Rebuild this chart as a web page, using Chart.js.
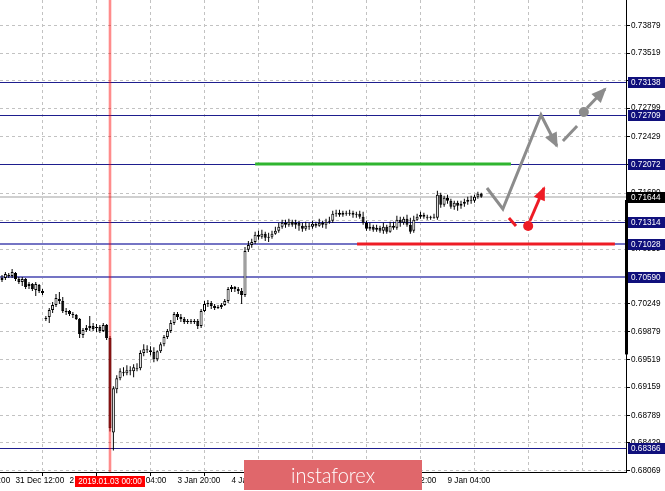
<!DOCTYPE html>
<html><head><meta charset="utf-8">
<script src="https://cdn.jsdelivr.net/npm/chart.js@4.4.1/dist/chart.umd.min.js"></script>
<style>html,body{margin:0;padding:0;background:#fff;overflow:hidden}canvas{display:block}</style>
</head><body>
<canvas id="c" width="665" height="491"></canvas>
<script>
// ---- data (H1 candles) ----
const openP=[0.70557,0.70583,0.70622,0.70609,0.70649,0.70570,0.70531,0.70570,0.70478,0.70505,
0.70426,0.70491,0.70413,0.70060,0.70073,0.70164,0.70230,0.70308,0.70282,0.70151,
0.70151,0.70112,0.70099,0.70047,0.69838,0.69903,0.69929,0.69955,0.69929,0.69942,
0.69890,0.69969,0.69798,0.68567,0.69130,0.69274,0.69353,0.69340,0.69379,0.69366,
0.69405,0.69405,0.69602,0.69654,0.69641,0.69615,0.69523,0.69628,0.69719,0.69811,
0.69890,0.69994,0.70112,0.70073,0.70047,0.70008,0.70021,0.70008,0.70021,0.69955,
0.70151,0.70243,0.70256,0.70216,0.70190,0.70203,0.70230,0.70282,0.70439,0.70465,
0.70439,0.70413,0.70361,0.70950,0.71015,0.71054,0.71146,0.71120,0.71159,0.71107,
0.71120,0.71159,0.71198,0.71251,0.71303,0.71277,0.71316,0.71277,0.71303,0.71264,
0.71225,0.71264,0.71251,0.71290,0.71264,0.71303,0.71277,0.71316,0.71329,0.71421,
0.71434,0.71408,0.71434,0.71421,0.71434,0.71408,0.71421,0.71382,0.71303,0.71225,
0.71251,0.71212,0.71238,0.71198,0.71251,0.71185,0.71264,0.71238,0.71343,0.71303,
0.71356,0.71277,0.71198,0.71343,0.71382,0.71408,0.71382,0.71369,0.71369,0.71369,
0.71670,0.71539,0.71630,0.71591,0.71513,0.71565,0.71526,0.71552,0.71578,0.71604,
0.71591,0.71644,0.71683];
const closeP=[0.70583,0.70635,0.70609,0.70662,0.70570,0.70531,0.70570,0.70465,0.70505,0.70439,
0.70505,0.70413,0.70387,0.70047,0.70164,0.70230,0.70321,0.70282,0.70151,0.70138,
0.70112,0.70099,0.70047,0.69851,0.69903,0.69929,0.69955,0.69916,0.69929,0.69890,
0.69969,0.69798,0.68620,0.69143,0.69274,0.69366,0.69340,0.69379,0.69366,0.69418,
0.69392,0.69602,0.69654,0.69641,0.69615,0.69523,0.69628,0.69719,0.69811,0.69890,
0.69994,0.70112,0.70073,0.70047,0.70008,0.70021,0.70008,0.70021,0.69955,0.70151,
0.70243,0.70256,0.70216,0.70190,0.70203,0.70230,0.70282,0.70439,0.70465,0.70439,
0.70413,0.70361,0.70936,0.71015,0.71054,0.71146,0.71120,0.71159,0.71107,0.71120,
0.71159,0.71198,0.71251,0.71303,0.71277,0.71316,0.71277,0.71303,0.71264,0.71225,
0.71264,0.71251,0.71290,0.71264,0.71303,0.71277,0.71316,0.71329,0.71421,0.71434,
0.71408,0.71434,0.71421,0.71434,0.71408,0.71421,0.71382,0.71303,0.71225,0.71251,
0.71212,0.71238,0.71198,0.71251,0.71185,0.71264,0.71238,0.71343,0.71303,0.71356,
0.71277,0.71185,0.71343,0.71382,0.71408,0.71382,0.71369,0.71369,0.71382,0.71670,
0.71539,0.71630,0.71591,0.71513,0.71565,0.71526,0.71552,0.71578,0.71604,0.71591,
0.71644,0.71683,0.71644];
const highP=[0.70622,0.70662,0.70649,0.70701,0.70662,0.70596,0.70596,0.70583,0.70531,0.70518,
0.70531,0.70505,0.70439,0.70086,0.70190,0.70269,0.70374,0.70400,0.70334,0.70190,
0.70164,0.70138,0.70112,0.70060,0.69929,0.69969,0.70086,0.69995,0.69982,0.69969,
0.69995,0.69982,0.69824,0.69169,0.69313,0.69405,0.69418,0.69445,0.69431,0.69458,
0.69471,0.69641,0.69719,0.69706,0.69693,0.69680,0.69641,0.69745,0.69838,0.69916,
0.70034,0.70138,0.70138,0.70112,0.70073,0.70047,0.70047,0.70047,0.70047,0.70177,
0.70282,0.70295,0.70282,0.70243,0.70230,0.70256,0.70308,0.70465,0.70491,0.70478,
0.70465,0.70452,0.70989,0.71067,0.71094,0.71185,0.71198,0.71212,0.71185,0.71172,
0.71198,0.71251,0.71303,0.71343,0.71343,0.71356,0.71343,0.71343,0.71329,0.71303,
0.71316,0.71303,0.71329,0.71316,0.71356,0.71329,0.71356,0.71382,0.71460,0.71474,
0.71474,0.71460,0.71460,0.71474,0.71460,0.71447,0.71460,0.71447,0.71329,0.71303,
0.71277,0.71277,0.71264,0.71303,0.71277,0.71316,0.71316,0.71395,0.71382,0.71382,
0.71408,0.71369,0.71395,0.71421,0.71447,0.71434,0.71408,0.71395,0.71421,0.71722,
0.71696,0.71657,0.71670,0.71617,0.71591,0.71591,0.71591,0.71617,0.71644,0.71657,
0.71670,0.71709,0.71696];
const lowP=[0.70531,0.70557,0.70583,0.70583,0.70544,0.70505,0.70478,0.70439,0.70439,0.70413,
0.70347,0.70387,0.70361,0.70021,0.69995,0.70125,0.70203,0.70243,0.70125,0.70099,
0.70086,0.70060,0.70034,0.69798,0.69798,0.69877,0.69890,0.69890,0.69877,0.69864,
0.69877,0.69772,0.68580,0.68331,0.69078,0.69248,0.69300,0.69313,0.69313,0.69288,
0.69366,0.69379,0.69562,0.69602,0.69575,0.69484,0.69497,0.69602,0.69693,0.69785,
0.69864,0.69969,0.70034,0.70008,0.69982,0.69982,0.69982,0.69982,0.69916,0.69929,
0.70138,0.70203,0.70177,0.70164,0.70177,0.70177,0.70216,0.70256,0.70400,0.70400,
0.70374,0.70243,0.70334,0.70923,0.70976,0.71028,0.71081,0.71094,0.71067,0.71054,
0.71094,0.71146,0.71172,0.71225,0.71238,0.71251,0.71251,0.71225,0.71198,0.71185,
0.71198,0.71212,0.71225,0.71238,0.71251,0.71238,0.71225,0.71290,0.71303,0.71382,
0.71382,0.71382,0.71395,0.71395,0.71369,0.71369,0.71356,0.71277,0.71198,0.71198,
0.71185,0.71185,0.71172,0.71159,0.71159,0.71172,0.71212,0.71212,0.71251,0.71277,
0.71251,0.71159,0.71172,0.71329,0.71356,0.71356,0.71343,0.71343,0.71356,0.71343,
0.71500,0.71513,0.71552,0.71487,0.71474,0.71460,0.71487,0.71513,0.71539,0.71552,
0.71565,0.71617,0.71630];

const timeTickIdx=[-12,4,20,36,52,68,84,100,116,132,148,164,180];
const timeTickLabels=["28 Dec 20:00","31 Dec 12:00","2 Jan 12:00","3 Jan 04:00","3 Jan 20:00","4 Jan 12:00","7 Jan 04:00","7 Jan 20:00","8 Jan 12:00","9 Jan 04:00","","",""];
const priceTicks=[0.73879,0.73519,0.73159,0.72799,0.72429,0.72069,0.71690,0.71329,0.70959,0.70599,0.70249,0.69879,0.69519,0.69159,0.68789,0.68429,0.68069];
const levels=[0.73138,0.72709,0.72072,0.71314,0.71028,0.70590,0.68366];
const softLevels=[0.71028,0.70590];
const bidPrice=0.71644;
const dayRange=[0.69585,0.71601];
const markerIdx=32;
const markerLabel="2019.01.03 00:00";

// forecast drawing (bar index, price)
const mainPathX=[143.7,148.4,159.7,164.4];
const mainPathY=[0.71758,0.71484,0.72711,0.72306];
const altDashX=[166.2,170.4];
const altDashY=[0.72371,0.72567];
const altDot=[172.4,0.72750];
const altArrowX=[173.3,178.7];
const altArrowY=[0.72802,0.73050];
const redDashX=[150.2,152.3];
const redDashY=[0.71366,0.71262];
const redDot=[155.9,0.71262];
const redArrowX=[156.4,160.6];
const redArrowY=[0.71327,0.71758];
const greenLine={from:75,to:150.8,price:0.72072};
const redLine={from:105.2,to:181.6,price:0.71028};

// ---- chart ----
const FONT_FAMILY="'Liberation Sans',Arial,sans-serif";
const FS=8.2;
const pts=(xs,ys)=>xs.map((x,i)=>({x:x,y:ys[i]}));
const GRAY='#8c8c8c', RED='#ee1c25';

const bodies=openP.map((o,i)=>({x:i,y:[o,closeP[i]]}));
const wicks=lowP.map((l,i)=>({x:i,y:[l,highP[i]]}));

const noPad=s=>{s.paddingLeft=0;s.paddingRight=0;s.paddingTop=0;s.paddingBottom=0;};

const decor={
  id:'decor',
  beforeDatasetsDraw(chart){
    const {ctx,chartArea:a,scales:{y}}=chart;
    ctx.save();
    const by=Math.round(y.getPixelForValue(bidPrice));
    ctx.strokeStyle='#d0d0d0';ctx.lineWidth=2;
    ctx.beginPath();ctx.moveTo(a.left,by);ctx.lineTo(a.right,by);ctx.stroke();
    levels.forEach(v=>{
      const py=y.getPixelForValue(v);
      const soft=softLevels.includes(v);
      ctx.strokeStyle=soft?'#7474c4':'#1e1e8e';
      ctx.lineWidth=soft?2:1;
      const yy=soft?Math.round(py):Math.round(py)+0.5;
      ctx.beginPath();ctx.moveTo(a.left,yy);ctx.lineTo(a.right,yy);ctx.stroke();
    });
    ctx.restore();
  },
  afterDatasetsDraw(chart){
    const {ctx,chartArea:a,scales:{x}}=chart;
    ctx.save();
    chart.data.datasets.forEach((ds,i)=>{
      if(!ds.arrowHead) return;
      const m=chart.getDatasetMeta(i).data;
      const p1=m[m.length-2], p2=m[m.length-1];
      const ang=Math.atan2(p2.y-p1.y,p2.x-p1.x);
      const L=ds.headLen||12, W=ds.headW||6;
      const bx=p2.x-L*Math.cos(ang), byy=p2.y-L*Math.sin(ang);
      ctx.fillStyle=ds.borderColor;
      ctx.beginPath();
      ctx.moveTo(p2.x+2*Math.cos(ang),p2.y+2*Math.sin(ang));
      ctx.lineTo(bx+W*Math.sin(ang),byy-W*Math.cos(ang));
      ctx.lineTo(bx-W*Math.sin(ang),byy+W*Math.cos(ang));
      ctx.closePath();ctx.fill();
    });
    const mx=x.getPixelForValue(markerIdx);
    ctx.fillStyle='rgba(255,0,0,0.45)';
    ctx.fillRect(mx-1.3,a.top,2.6,a.bottom-a.top);
    ctx.restore();
  },
  afterDraw(chart){
    const {ctx,chartArea:a,scales:{x,y}}=chart;
    ctx.save();
    ctx.font=FS+'px '+FONT_FAMILY;
    ctx.textBaseline='middle';ctx.textAlign='left';
    const r1=y.getPixelForValue(dayRange[1]), r0=y.getPixelForValue(dayRange[0]);
    ctx.fillStyle='#000';ctx.fillRect(a.right-1,r1,3,r0-r1);
    levels.forEach(v=>{
      const py=Math.round(y.getPixelForValue(v));
      ctx.fillStyle='#10107c';ctx.fillRect(a.right+2,py-5,chart.width-a.right-2,11);
      ctx.fillStyle='#fff';ctx.fillText(v.toFixed(5),a.right+5,py+0.5);
    });
    const bpy=Math.round(y.getPixelForValue(bidPrice));
    ctx.fillStyle='#000';ctx.fillRect(a.right+1,bpy-5,chart.width-a.right-1,11);
    ctx.fillStyle='#fff';ctx.fillText(bidPrice.toFixed(5),a.right+5,bpy+0.5);
    const mx=x.getPixelForValue(markerIdx);
    const tw=ctx.measureText(markerLabel).width;
    ctx.fillStyle='#ff0000';ctx.fillRect(Math.round(mx-tw/2-3),a.bottom+4,Math.round(tw+6),11);
    ctx.fillStyle='#fff';ctx.textAlign='center';ctx.fillText(markerLabel,mx,a.bottom+10);
    ctx.fillStyle='#e0676b';ctx.fillRect(244,460,178,30);
    ctx.fillStyle='#fff';
    ctx.font='300 22px Lato, "Open Sans", sans-serif';
    const w=ctx.measureText('instaforex').width;
    ctx.translate(333,476);ctx.scale(84/w,1);
    ctx.textAlign='center';ctx.fillText('instaforex',0,0);
    ctx.restore();
  }
};

new Chart(document.getElementById('c'),{
  type:'bar',
  data:{datasets:[
    {type:'line',data:[{x:greenLine.from,y:greenLine.price},{x:greenLine.to,y:greenLine.price}],borderColor:'#2fb52f',borderWidth:3,pointRadius:0,order:0},
    {type:'line',data:[{x:redLine.from,y:redLine.price},{x:redLine.to,y:redLine.price}],borderColor:RED,borderWidth:3,pointRadius:0,order:0},
    {type:'line',data:pts(mainPathX,mainPathY),borderColor:GRAY,borderWidth:3,pointRadius:0,order:0,arrowHead:true,headLen:13,headW:6.5},
    {type:'line',data:pts(altDashX,altDashY),borderColor:GRAY,borderWidth:3,pointRadius:0,order:0},
    {type:'line',data:[{x:altDot[0],y:altDot[1]}],showLine:false,pointRadius:5,pointBackgroundColor:GRAY,pointBorderWidth:0,order:0},
    {type:'line',data:pts(altArrowX,altArrowY),borderColor:GRAY,borderWidth:3,pointRadius:0,order:0,arrowHead:true,headLen:13,headW:6.5},
    {type:'line',data:pts(redDashX,redDashY),borderColor:RED,borderWidth:3,pointRadius:0,order:0},
    {type:'line',data:[{x:redDot[0],y:redDot[1]}],showLine:false,pointRadius:5,pointBackgroundColor:RED,pointBorderWidth:0,order:0},
    {type:'line',data:pts(redArrowX,redArrowY),borderColor:RED,borderWidth:3,pointRadius:0,order:0,arrowHead:true,headLen:12,headW:6},
    {type:'bar',data:bodies,barThickness:3,grouped:false,backgroundColor:openP.map((o,i)=>closeP[i]>o?'#ffffff':'#000000'),borderColor:'#000',borderWidth:1,borderSkipped:false,minBarLength:1,inflateAmount:0,order:1},
    {type:'bar',data:wicks,barThickness:1,grouped:false,backgroundColor:'#000',borderWidth:0,inflateAmount:0,order:2}
  ]},
  options:{
    responsive:false,maintainAspectRatio:false,animation:false,devicePixelRatio:1,events:[],
    layout:{padding:0,autoPadding:false},
    plugins:{legend:{display:false},tooltip:{enabled:false}},
    scales:{
      x:{type:'linear',min:-0.5926,max:184.89,offset:false,
        afterBuildTicks:s=>{s.ticks=timeTickIdx.map(v=>({value:v}));},
        afterFit:s=>{s.height=19;noPad(s);},
        ticks:{align:'start',maxRotation:0,autoSkip:false,padding:0,color:'#000',font:{family:FONT_FAMILY,size:FS},
          callback:v=>timeTickLabels[timeTickIdx.indexOf(v)]||''},
        grid:{color:'#c2c2c2',tickLength:4,tickColor:c=>(c.tick&&timeTickLabels[timeTickIdx.indexOf(c.tick.value)])?'#000':'rgba(0,0,0,0)'},
        border:{display:true,color:'#000',width:1,dash:[3,3]}
      },
      y:{type:'linear',position:'right',min:0.68050,max:0.74212,
        afterBuildTicks:s=>{s.ticks=priceTicks.map(v=>({value:v}));},
        afterFit:s=>{s.width=39;noPad(s);},
        ticks:{autoSkip:false,padding:1,color:'#000',font:{family:FONT_FAMILY,size:FS},callback:v=>Number(v).toFixed(5)},
        grid:{color:'#c2c2c2',tickLength:4,tickColor:'#000'},
        border:{display:true,color:'#000',width:1,dash:[3,3]}
      }
    }
  },
  plugins:[decor]
});
</script>
</body></html>
